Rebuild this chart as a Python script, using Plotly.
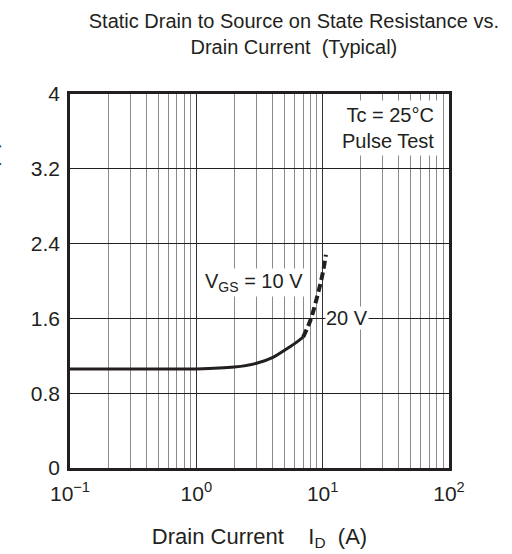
import plotly.graph_objects as go

# Data
id_solid = [0.1, 0.5, 1.0, 2.0, 3.0, 4.0, 5.0, 6.0, 7.0]
r_solid = [1.06, 1.06, 1.06, 1.08, 1.12, 1.18, 1.26, 1.33, 1.40]
id_dash = [7.0, 8.0, 9.0, 10.0, 10.6]
r_dash = [1.40, 1.58, 1.82, 2.08, 2.28]

x_tickvals = [0.1, 1, 10, 100]
x_ticktext = ["10<sup>−1</sup>", "10<sup>0</sup>", "10<sup>1</sup>", "10<sup>2</sup>"]
y_tickvals = [0, 0.8, 1.6, 2.4, 3.2, 4]
y_ticktext = ["0", "0.8", "1.6", "2.4", "3.2", "4"]
minor_vals = [m * 10 ** e for e in (-1, 0, 1) for m in range(2, 10)]

FONT = "Liberation Sans, Arial, sans-serif"
INK = "#231f20"

fig = go.Figure()
fig.add_trace(go.Scatter(x=id_solid, y=r_solid, mode="lines",
                         line=dict(color=INK, width=3, shape="spline"),
                         showlegend=False, hoverinfo="skip"))
fig.add_trace(go.Scatter(x=id_dash, y=r_dash, mode="lines",
                         line=dict(color=INK, width=4, dash="8px,4px", shape="spline"),
                         showlegend=False, hoverinfo="skip"))

fig.update_layout(
    width=512, height=554,
    margin=dict(l=70, r=63, t=94, b=86),
    paper_bgcolor="white", plot_bgcolor="white",
    font=dict(family=FONT, size=20, color=INK),
    title=dict(text="Static Drain to Source on State Resistance vs.<br>Drain Current  (Typical)",
               x=0.574, xanchor="center", y=0.949, yanchor="top",
               font=dict(size=20, color=INK)),
    xaxis=dict(type="log", range=[-1, 2], tickvals=x_tickvals, ticktext=x_ticktext,
               tickfont=dict(size=21),
               showgrid=True, gridcolor="#333", gridwidth=1,
               minor=dict(tickvals=minor_vals, showgrid=True, gridcolor="#8a8a8a", gridwidth=1, ticks=""),
               showline=True, linecolor=INK, linewidth=2.5, mirror=True,
               ticks="", ticklabelstandoff=5, zeroline=False, automargin=False,
               title=dict(text="Drain Current    I<sub>D</sub>  (A)", standoff=25,
                          font=dict(size=22))),
    yaxis=dict(range=[0, 4], tickvals=y_tickvals, ticktext=y_ticktext,
               tickfont=dict(size=21),
               showgrid=True, gridcolor=INK, gridwidth=1,
               showline=True, linecolor=INK, linewidth=2.5, mirror=True,
               ticks="", ticklabelstandoff=3, zeroline=False, automargin=False),
)

fig.add_annotation(text="Tc = 25°C<br>Pulse Test", xref="x domain", yref="y domain",
                   x=0.972, y=0.983, xanchor="right", yanchor="top", align="right",
                   showarrow=False, bgcolor="white", borderpad=3,
                   font=dict(size=20, color=INK))
fig.add_annotation(text="V<sub>GS</sub> = 10 V", xref="x", yref="y",
                   x=0.861, y=1.98, xanchor="right", yanchor="middle",
                   showarrow=False, bgcolor="white", borderpad=1,
                   font=dict(size=20, color=INK))
fig.add_annotation(text="20 V", xref="x", yref="y",
                   x=1.19, y=1.60, xanchor="center", yanchor="middle",
                   showarrow=False, bgcolor="white", borderpad=0,
                   font=dict(size=20, color=INK))
fig.add_annotation(text="(Ω)", xref="paper", yref="paper", textangle=-90,
                   x=-0.21, y=0.837, xanchor="center", yanchor="middle",
                   showarrow=False, font=dict(size=20, color=INK))

fig.write_html("out.html", config={"displayModeBar": False},
               post_script="document.body.style.margin='0';")
